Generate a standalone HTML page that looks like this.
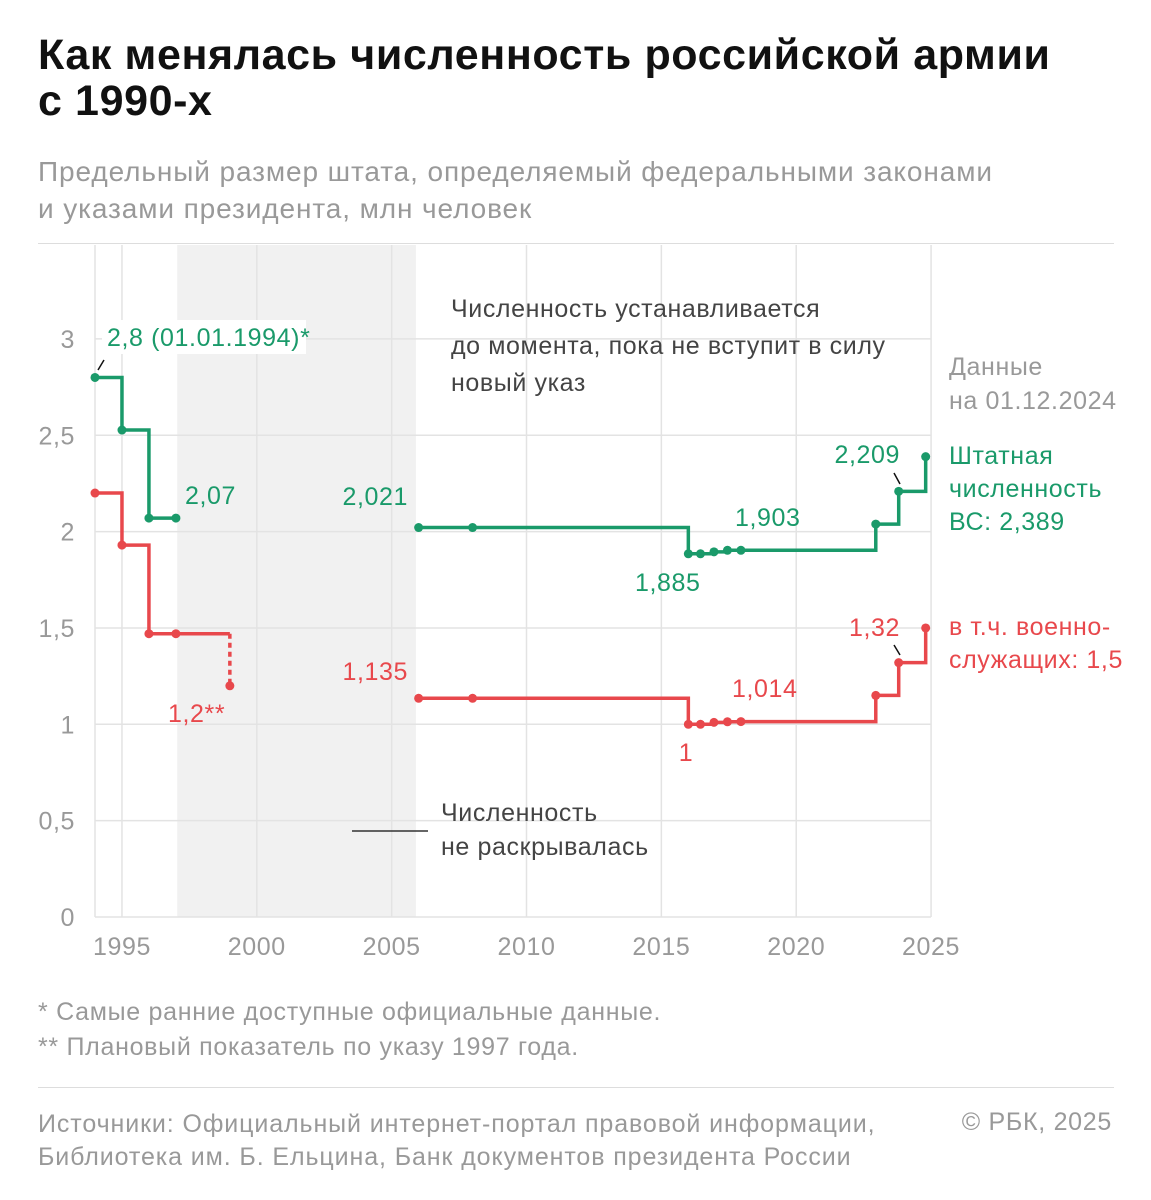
<!DOCTYPE html>
<html><head><meta charset="utf-8">
<style>
body{margin:0;background:#fff;width:1151px;height:1200px;overflow:hidden;font-family:"Liberation Sans","Noto Sans CJK SC",sans-serif;}
.t{position:absolute;white-space:nowrap}
svg text{letter-spacing:0.6px}
</style></head><body>
<div class="t" style="left:38px;top:32px;font-size:43px;font-weight:bold;line-height:46px;color:#111;letter-spacing:0.6px">Как менялась численность российской армии<br>с 1990-х</div>
<div class="t" style="left:38px;top:153px;font-size:28px;line-height:37px;color:#999;letter-spacing:0.9px">Предельный размер штата, определяемый федеральными законами<br>и указами президента, млн человек</div>
<div style="position:absolute;left:38px;top:243px;width:1076px;height:1px;background:#ddd"></div>
<svg id="chart" width="1151" height="1200" style="position:absolute;left:0;top:0" font-family="Liberation Sans, sans-serif"></svg>
<div class="t" style="left:38px;top:998px;font-size:25px;color:#999;letter-spacing:0.7px">* Самые ранние доступные официальные данные.</div>
<div class="t" style="left:38px;top:1033px;font-size:25px;color:#999;letter-spacing:0.7px">** Плановый показатель по указу 1997 года.</div>
<div style="position:absolute;left:38px;top:1087px;width:1076px;height:1px;background:#ddd"></div>
<div class="t" style="left:38px;top:1108px;font-size:25px;line-height:33px;color:#999;letter-spacing:0.9px">Источники: Официальный интернет-портал правовой информации,<br>Библиотека им. Б. Ельцина, Банк документов президента России</div>
<div class="t" style="right:39px;top:1108px;font-size:25px;color:#999;letter-spacing:0.7px">© РБК, 2025</div>
<script>
const xTicks=[1995,2000,2005,2010,2015,2020,2025];
const yTicks=[0,0.5,1,1.5,2,2.5,3];
const yTickLabels=["0","0,5","1","1,5","2","2,5","3"];
const greenA_x=[1994,1995,1996,1997];
const greenA_y=[2.8,2.527,2.07,2.07];
const greenB_x=[2006,2008,2016,2016.45,2016.95,2017.45,2017.95,2022.95,2023.8,2024.8];
const greenB_y=[2.021,2.021,1.885,1.885,1.895,1.903,1.903,2.039,2.209,2.389];
const redA_x=[1994,1995,1996,1997];
const redA_y=[2.2,1.93,1.47,1.47];
const redEnd=[1999,1.2];
const redB_x=[2006,2008,2016,2016.45,2016.95,2017.45,2017.95,2022.95,2023.8,2024.8];
const redB_y=[1.135,1.135,1.0,1.0,1.01,1.013,1.014,1.15,1.32,1.5];
const G="#1a9a6a",R="#e8484c";
const X=v=>95+(v-1994)*26.97, Y=v=>917-v*192.7;
const svg=document.getElementById('chart');
const NS="http://www.w3.org/2000/svg";
function mk(tag,a,p){const e=document.createElementNS(NS,tag);for(const k in a)e.setAttribute(k,a[k]);(p||svg).appendChild(e);return e;}
let band=mk('rect',{x:X(1997.05),y:245,width:X(2005.9)-X(1997.05),height:917-245,fill:'#f1f1f1'});


yTicks.forEach((v,i)=>{
 let l=mk('line',{x1:95,x2:931,y1:Y(v),y2:Y(v),stroke:'#e3e3e3','stroke-width':1.5});
 
 
 let t=mk('text',{x:75,y:Y(v)+9,'text-anchor':'end','font-size':25,fill:'#999'});t.textContent=yTickLabels[i];
 
 
});
[1994].concat(xTicks).forEach(v=>{
 let l=mk('line',{x1:X(v),x2:X(v),y1:245,y2:917,stroke:'#e3e3e3','stroke-width':1.5});
 
 
});
xTicks.forEach(v=>{
 let t=mk('text',{x:X(v),y:955,'text-anchor':'middle','font-size':25,fill:'#999'});t.textContent=v;
 
 
});
function step(xs,ys,col,endX,name){
 let d='M'+X(xs[0])+','+Y(ys[0]);
 for(let i=1;i<xs.length;i++){d+='H'+X(xs[i])+'V'+Y(ys[i]);}
 if(endX!==undefined)d+='H'+X(endX);
 let p=mk('path',{d:d,fill:'none',stroke:col,'stroke-width':3.5});
 
 
 xs.forEach((x,i)=>{let c=mk('circle',{cx:X(x),cy:Y(ys[i]),r:4.5,fill:col});
  
  });
}
step(greenA_x,greenA_y,G,undefined,'green-line-1990s');
step(greenB_x,greenB_y,G,undefined,'green-line-2006-2024');
step(redA_x,redA_y,R,redEnd[0],'red-line-1990s');
step(redB_x,redB_y,R,undefined,'red-line-2006-2024');
let dl=mk('line',{x1:X(redEnd[0]),x2:X(redEnd[0]),y1:Y(redA_y[3]),y2:Y(redEnd[1]),stroke:R,'stroke-width':3.5,'stroke-dasharray':'5,4'});


let dc=mk('circle',{cx:X(redEnd[0]),cy:Y(redEnd[1]),r:4.5,fill:R});


[[98,370,104,360],[894,473,900,484],[894,645,900,655]].forEach(a=>{
 let l=mk('line',{x1:a[0],y1:a[1],x2:a[2],y2:a[3],stroke:'#111','stroke-width':1.5});
 
 
});
let lg=mk('line',{x1:352,x2:428,y1:831,y2:831,stroke:'#333','stroke-width':1.5});


function lab(x,y,s,col,anchor,name,size){
 let t=mk('text',{x:x,y:y,'text-anchor':anchor||'start','font-size':size||25,fill:col});t.textContent=s;
 
 
 return t;
}
let bg=mk('rect',{x:102,y:320,width:204,height:34,fill:'#fff'});
lab(107,346,'2,8 (01.01.1994)*',G,'start','label-2-8');
lab(185,504,'2,07',G,'start','label-2-07');
lab(408,505,'2,021',G,'end','label-2-021');
lab(635,591,'1,885',G,'start','label-1-885');
lab(735,526,'1,903',G,'start','label-1-903');
lab(900,463,'2,209',G,'end','label-2-209');
lab(408,680,'1,135',R,'end','label-1-135');
lab(168,722,'1,2**',R,'start','label-1-2');
lab(686,761,'1',R,'middle','label-1');
lab(732,697,'1,014',R,'start','label-1-014');
lab(900,636,'1,32',R,'end','label-1-32');
['Численность устанавливается','до момента, пока не вступит в силу','новый указ'].forEach((s,i)=>lab(451,317+i*37,s,'#444','start','note-line'));
['Численность','не раскрывалась'].forEach((s,i)=>lab(441,821+i*34,s,'#444','start','legend-label'));
['Данные','на 01.12.2024'].forEach((s,i)=>lab(949,375+i*34,s,'#999','start','data-date'));
['Штатная','численность','ВС: 2,389'].forEach((s,i)=>lab(949,464+i*33,s,G,'start','green-series-label'));
['в т.ч. военно-','служащих: 1,5'].forEach((s,i)=>lab(949,635+i*33,s,R,'start','red-series-label'));
</script>
</body></html>
